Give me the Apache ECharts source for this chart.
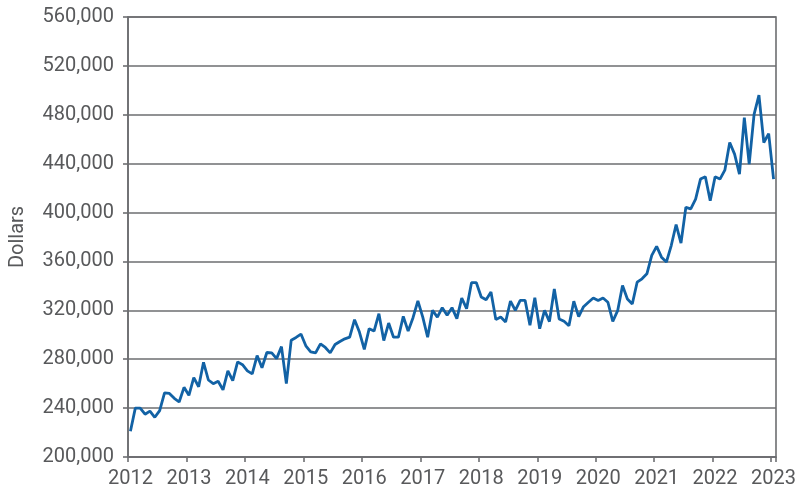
<!DOCTYPE html>
<html><head><meta charset="utf-8">
<script src="https://cdn.jsdelivr.net/npm/echarts@6/dist/echarts.min.js"></script>
<style>html,body{margin:0;padding:0;background:#fff}#c{width:800px;height:494px}</style>
</head><body><div id="c"></div>
<script>
// Monthly categories Jan 2012 .. Jan 2023
const firstYear = 2012;
const lastYear = 2023;
const months = [];
for (let y = firstYear; y <= lastYear; y++) {
  for (let m = 1; m <= 12; m++) {
    if (y === lastYear && m > 1) break;
    months.push(y + '-' + String(m).padStart(2, '0'));
  }
}

// Median price (dollars)
const prices = [
  221000, 240000, 240000, 235000, 237500, 232500, 238000, 252500, 252000, 248000, 245000, 257000, // 2012
  250500, 265000, 257500, 277500, 263000, 260000, 262000, 255000, 270500, 262500, 277800, 275500, // 2013
  270500, 268000, 283000, 273000, 285500, 285200, 280500, 290300, 260000, 295600, 297800, 300600, // 2014
  291000, 286000, 285200, 292600, 289600, 285200, 292000, 294500, 296700, 298100, 312300, 302200, // 2015
  288000, 305000, 303000, 317300, 295300, 309600, 298000, 298000, 315000, 303000, 314000, 327700, // 2016
  314500, 298000, 320000, 314500, 322200, 316000, 322200, 313200, 330000, 321400, 342600, 342600, // 2017
  330900, 328700, 335000, 312400, 314600, 310500, 327600, 320000, 328200, 328200, 307800, 330300, // 2018
  305000, 320000, 310800, 337500, 312900, 311000, 307400, 327400, 314800, 323000, 326600, 330100, // 2019
  328000, 330100, 326600, 311000, 319700, 340300, 329300, 325200, 343000, 345800, 349900, 364900, // 2020
  372300, 363500, 359500, 373000, 390200, 375000, 404300, 403000, 411000, 427400, 429300, 409700, // 2021
  429300, 427400, 434700, 457300, 447800, 431500, 477700, 439600, 480400, 496100, 457300, 464600, // 2022
  427400                                                                                          // 2023
];

const yMin = 200000;
const yMax = 560000;
const yStep = 40000;
const yName = 'Dollars';

const axisGray = '#6d6e71';
const textGray = '#58595b';
const lineBlue = '#1262a5';
const font = 'Roboto';

const chart = echarts.init(document.getElementById('c'), null, {renderer: 'canvas'});
chart.setOption({
  animation: false,
  grid: {left: 128, right: 24, top: 17, bottom: 37, containLabel: false,
         show: true, borderColor: axisGray, borderWidth: 1.6, backgroundColor: 'transparent'},
  xAxis: {
    type: 'category',
    data: months,
    boundaryGap: true,
    axisLine: {show: true, lineStyle: {color: axisGray, width: 1.6}},
    axisTick: {show: true, length: 5, interval: (i) => i % 12 === 0, lineStyle: {color: axisGray, width: 1.6}},
    axisLabel: {
      interval: (i) => i % 12 === 0,
      formatter: (v) => v.slice(0, 4),
      color: textGray, fontFamily: font, fontSize: 20, margin: 12
    },
    splitLine: {show: false}
  },
  yAxis: {
    type: 'value',
    min: yMin, max: yMax, interval: yStep,
    name: yName, nameLocation: 'middle', nameGap: 100, nameRotate: 90,
    nameTextStyle: {color: textGray, fontFamily: font, fontSize: 20},
    axisLine: {show: true, lineStyle: {color: axisGray, width: 1.6}},
    axisTick: {show: true, length: 5, lineStyle: {color: axisGray, width: 1.6}},
    axisLabel: {
      color: textGray, fontFamily: font, fontSize: 20, margin: 14,
      formatter: (v) => v.toLocaleString('en-US')
    },
    splitLine: {show: true, lineStyle: {color: axisGray, width: 1.6}}
  },
  series: [{
    type: 'line',
    data: prices,
    showSymbol: false,
    symbol: 'none',
    lineStyle: {color: lineBlue, width: 2.8},
    itemStyle: {color: lineBlue}
  }]
});
</script>
</body></html>
